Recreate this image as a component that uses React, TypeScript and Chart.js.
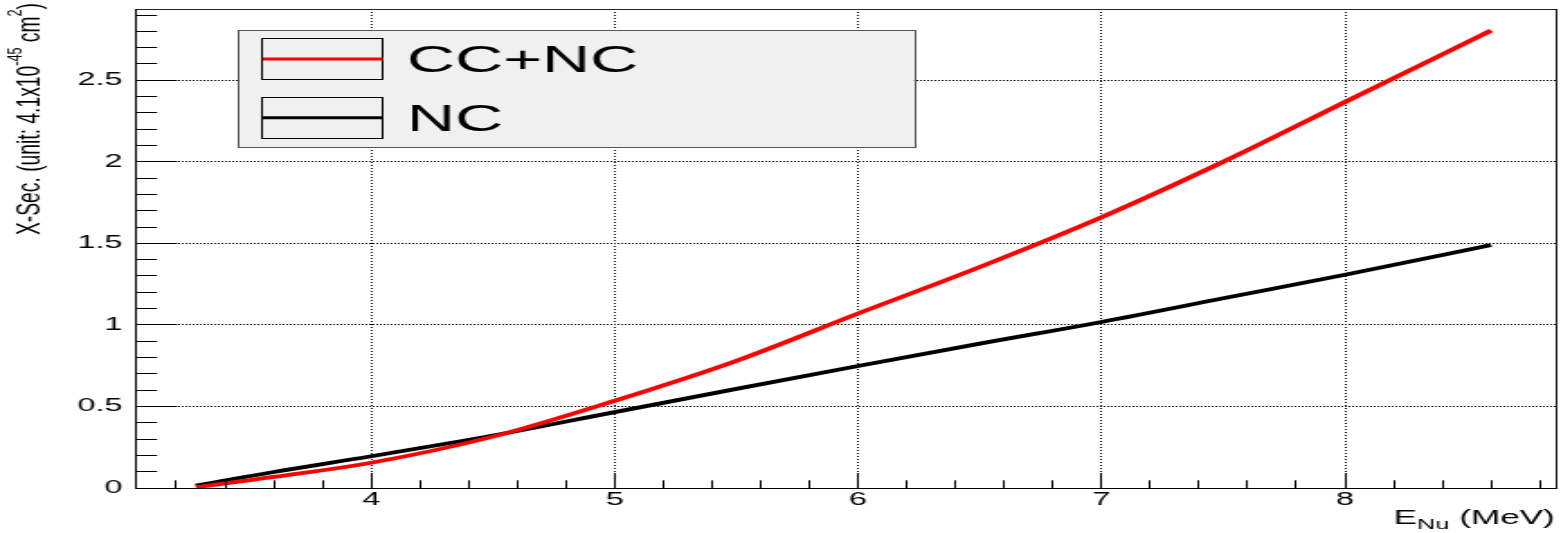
import React, { useEffect, useRef } from "react";
import { Chart, registerables } from "chart.js";

Chart.register(...registerables);

// ---------------- data ----------------
const energies = [3.28, 3.6, 4.0, 4.5, 5.0, 5.5, 6.0, 6.5, 7.0, 7.5, 8.0, 8.6];
const ccncValues = [0.005, 0.068, 0.155, 0.315, 0.535, 0.78, 1.07, 1.355, 1.66, 2.0, 2.367, 2.805];
const ncValues = [0.015, 0.098, 0.195, 0.322, 0.465, 0.608, 0.748, 0.885, 1.018, 1.163, 1.308, 1.49];
const seriesLabels = ["CC+NC", "NC"];
const seriesColors = ["#ff0000", "#000000"];
const xTickValues = [4, 5, 6, 7, 8];
const xTickLabels = ["4", "5", "6", "7", "8"];
const yTickValues = [0, 0.5, 1, 1.5, 2, 2.5];
const yTickLabels = ["0", "0.5", "1", "1.5", "2", "2.5"];
const xTitleParts = ["E", "Nu", " (MeV)"];
const yTitleRuns = [
  { text: "X-Sec. (unit: 4.1x10", sup: false },
  { text: "-45", sup: true },
  { text: " cm", sup: false },
  { text: "2", sup: true },
  { text: ")", sup: false },
];

// ---------------- layout (internal canvas units, stretched horizontally) ----------------
const W = 1561;
const H = 533;
const IW = 867;
const FONT = "'Liberation Sans', Arial, Helvetica, sans-serif";
const X_MIN = 3.03;
const X_MAX = 8.865;
const Y_MIN = 0;
const Y_MAX = 2.937;
const X_MINOR = 0.2;
const Y_MINOR = 0.1;

const labelFor = (vals: number[], labels: string[], v: number) => {
  const i = vals.findIndex((t) => Math.abs(t - v) < 1e-6);
  return i >= 0 ? labels[i] : "";
};

const align = (p: number) => Math.round(p - 0.5) + 0.5;

const rootPlugin = {
  id: "rootStyle",
  beforeDraw(chart: any) {
    const ctx = chart.ctx;
    ctx.save();
    ctx.fillStyle = "#ffffff";
    ctx.fillRect(0, 0, chart.width, chart.height);
    ctx.restore();
  },
  afterDatasetsDraw(chart: any) {
    const { ctx, chartArea: a, scales } = chart;
    const xs = scales.x;
    const ys = scales.y;
    ctx.save();
    ctx.strokeStyle = "#000";
    ctx.lineWidth = 1;
    ctx.setLineDash([]);
    ctx.beginPath();
    // y ticks (inward)
    for (let i = Math.ceil(ys.min / Y_MINOR - 1e-9); i * Y_MINOR <= ys.max + 1e-9; i++) {
      const v = i * Y_MINOR;
      const major = yTickValues.some((t) => Math.abs(t - v) < 1e-6);
      const py = align(ys.getPixelForValue(v));
      ctx.moveTo(a.left, py);
      ctx.lineTo(a.left + (major ? 23.5 : 12.2), py);
    }
    // x ticks (inward)
    for (let i = Math.ceil(xs.min / X_MINOR - 1e-9); i * X_MINOR <= xs.max + 1e-9; i++) {
      const v = i * X_MINOR;
      const major = Math.abs(v - Math.round(v)) < 1e-6;
      const px = align(xs.getPixelForValue(v));
      ctx.moveTo(px, a.bottom);
      ctx.lineTo(px, a.bottom - (major ? 15 : 7.7));
    }
    ctx.stroke();
    // frame
    ctx.strokeStyle = "#222";
    ctx.strokeRect(align(a.left), align(a.top), align(a.right) - align(a.left), align(a.bottom) - align(a.top));
    ctx.strokeStyle = "#000";
    ctx.beginPath();
    ctx.moveTo(align(a.left), a.top);
    ctx.lineTo(align(a.left), align(a.bottom));
    ctx.lineTo(a.right, align(a.bottom));
    ctx.stroke();
    ctx.restore();
  },
  afterDraw(chart: any) {
    const ctx = chart.ctx;
    ctx.save();
    // legend box
    const bx = 132.2, by = 30, bw = 375.6, bh = 117.3;
    ctx.fillStyle = "#f0f0f0";
    ctx.fillRect(bx, by, bw, bh);
    ctx.strokeStyle = "#555";
    ctx.lineWidth = 1;
    ctx.strokeRect(align(bx), align(by), Math.round(bw), Math.round(bh));
    chart.data.datasets.forEach((ds: any, i: number) => {
      const top = 38.3 + i * 58.7;
      const rx = 145.9, rw = 66.5, rh = 41;
      ctx.strokeStyle = "#000";
      ctx.lineWidth = 1;
      ctx.strokeRect(align(rx), align(top), Math.round(rw), Math.round(rh));
      const ly = top + 20.7;
      ctx.strokeStyle = ds.borderColor;
      ctx.lineWidth = 3;
      ctx.beginPath();
      ctx.moveTo(rx, ly);
      ctx.lineTo(rx + rw, ly);
      ctx.stroke();
      ctx.fillStyle = "#000";
      ctx.font = `37px ${FONT}`;
      ctx.textBaseline = "alphabetic";
      ctx.textAlign = "left";
      ctx.fillText(ds.label, 226, ly + 13.2);
    });

    // x title (right aligned at axis end)
    ctx.fillStyle = "#000";
    ctx.textBaseline = "alphabetic";
    ctx.textAlign = "left";
    const mainF = `19.5px ${FONT}`;
    const subF = `14px ${FONT}`;
    ctx.font = mainF;
    const w0 = ctx.measureText(xTitleParts[0]).width;
    const w2 = ctx.measureText(xTitleParts[2]).width;
    ctx.font = subF;
    const w1 = ctx.measureText(xTitleParts[1]).width;
    let x = 863.5 - (w0 + w1 + w2);
    const base = 524;
    ctx.font = mainF;
    ctx.fillText(xTitleParts[0], x, base);
    x += w0;
    ctx.font = subF;
    ctx.fillText(xTitleParts[1], x, base + 5);
    x += w1;
    ctx.font = mainF;
    ctx.fillText(xTitleParts[2], x, base);

    // y title (rotated)
    const mainY = `19px ${FONT}`;
    const supY = `12.5px ${FONT}`;
    ctx.translate(22.2, 235);
    ctx.rotate(-Math.PI / 2);
    let total = 0;
    const widths = yTitleRuns.map((r) => {
      ctx.font = r.sup ? supY : mainY;
      const w = ctx.measureText(r.text).width;
      total += w;
      return w;
    });
    ctx.scale(232 / total, 0.92);
    let tx = 0;
    yTitleRuns.forEach((r, i) => {
      ctx.font = r.sup ? supY : mainY;
      ctx.fillText(r.text, tx, r.sup ? -11.5 : 0);
      tx += widths[i];
    });
    ctx.restore();
  },
};

export default function App() {
  const canvasRef = useRef<HTMLCanvasElement | null>(null);

  useEffect(() => {
    const canvas = canvasRef.current;
    if (!canvas) return;
    const values = [ccncValues, ncValues];
    const chart = new Chart(canvas, {
      type: "line",
      data: {
        datasets: seriesLabels.map((label, i) => ({
          label,
          data: energies.map((e, j) => ({ x: e, y: values[i][j] })),
          borderColor: seriesColors[i],
          backgroundColor: seriesColors[i],
          borderWidth: 3.8,
          pointRadius: 0,
          fill: false,
          cubicInterpolationMode: "monotone" as const,
        })),
      },
      options: {
        responsive: false,
        animation: false,
        devicePixelRatio: 1,
        layout: { padding: { top: 9, right: 3, left: 0, bottom: 0 } },
        plugins: { legend: { display: false }, tooltip: { enabled: false } },
        scales: {
          x: {
            type: "linear",
            min: X_MIN,
            max: X_MAX,
            afterBuildTicks: (s: any) => {
              s.ticks = xTickValues.map((v) => ({ value: v }));
            },
            afterFit: (s: any) => {
              s.height = 45;
              s.paddingLeft = 0;
              s.paddingRight = 0;
            },
            ticks: {
              callback: (v: any) => labelFor(xTickValues, xTickLabels, Number(v)),
              font: { family: FONT, size: 18 },
              color: "#000",
              padding: 1,
              maxRotation: 0,
              minRotation: 0,
              autoSkip: false,
            },
            grid: { drawTicks: false, color: "#000", lineWidth: 1 },
            border: { display: false, dash: [1, 2] },
          },
          y: {
            type: "linear",
            min: Y_MIN,
            max: Y_MAX,
            afterBuildTicks: (s: any) => {
              s.ticks = yTickValues.map((v) => ({ value: v }));
            },
            afterFit: (s: any) => {
              s.width = 75;
              s.paddingTop = 0;
              s.paddingBottom = 0;
            },
            ticks: {
              callback: (v: any) => labelFor(yTickValues, yTickLabels, Number(v)),
              font: { family: FONT, size: 18 },
              color: "#000",
              padding: 7,
              autoSkip: false,
            },
            grid: { drawTicks: false, color: "#000", lineWidth: 1 },
            border: { display: false, dash: [1, 1] },
          },
        },
      },
      plugins: [rootPlugin],
    });
    return () => chart.destroy();
  }, []);

  return (
    <div style={{ position: "absolute", left: 0, top: 0, width: W, height: H }}>
      <canvas
        ref={canvasRef}
        width={IW}
        height={H}
        style={{ width: `${W}px`, height: `${H}px`, display: "block" }}
      />
    </div>
  );
}
